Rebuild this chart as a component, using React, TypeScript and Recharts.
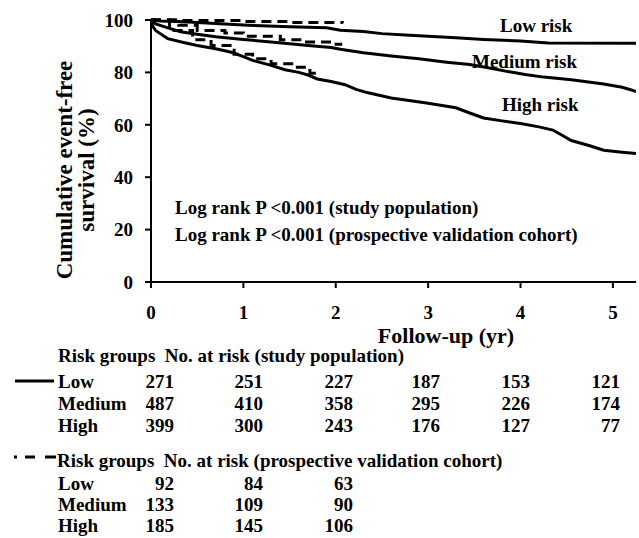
import React from 'react';
import { LineChart, Line, XAxis, YAxis } from 'recharts';

// Kaplan-Meier curves, [years, % event-free]
const studyLow: [number, number][] = [
  [0, 100], [0.1, 99.6], [0.35, 99.3], [0.7, 98.7], [1.05, 98], [1.5, 97.4], [1.9, 97],
  [2.05, 96.1], [2.3, 95.6], [2.5, 94.8], [2.8, 94.2], [3.0, 93.8], [3.3, 93.2],
  [3.6, 92.6], [4.0, 92], [4.3, 91.2], [5.25, 91.1],
];
const studyMedium: [number, number][] = [
  [0, 100], [0.05, 98.5], [0.15, 97.4], [0.32, 95.5], [0.5, 94.6], [0.7, 93.6], [1.0, 92.6],
  [1.3, 91.6], [1.7, 90.3], [1.95, 89.5], [2.05, 88.8], [2.3, 87.5], [2.6, 86.3],
  [2.9, 85.2], [3.2, 83.9], [3.45, 83], [3.65, 81.8], [3.85, 80.4], [4.05, 79.2],
  [4.25, 78.2], [4.55, 77.2], [4.9, 75.6], [5.1, 74.3], [5.2, 73.3], [5.25, 72.7],
];
const studyHigh: [number, number][] = [
  [0, 100], [0.02, 97.5], [0.05, 96], [0.1, 94.8], [0.18, 92.9], [0.33, 91.6], [0.5, 90.3],
  [0.7, 89], [0.87, 87.7], [1.0, 86], [1.1, 84.6], [1.3, 82.7], [1.45, 81], [1.6, 80],
  [1.7, 79], [1.8, 77.5], [1.95, 76.5], [2.1, 75.3], [2.22, 73.5], [2.35, 72.2],
  [2.6, 70.2], [2.85, 69], [3.0, 68.2], [3.3, 66.5], [3.45, 64.5], [3.6, 62.6],
  [3.8, 61.5], [4.0, 60.5], [4.2, 59.2], [4.35, 58], [4.45, 56], [4.55, 54],
  [4.75, 52], [4.9, 50.3], [5.1, 49.5], [5.25, 49],
];
const cohortLow: [number, number][] = [
  [0, 100], [0.3, 99.8], [1.0, 99.4], [1.5, 99], [2.07, 98.7],
];
const cohortMedium: [number, number][] = [
  [0, 100], [0.3, 98], [0.5, 96], [0.8, 95], [1.0, 93.8], [1.4, 92.5], [1.65, 91.6],
  [1.95, 90.7], [2.07, 90.7],
];
const cohortHigh: [number, number][] = [
  [0, 100], [0.2, 96], [0.45, 92.5], [0.65, 90.3], [0.9, 86.9], [1.1, 85.2], [1.3, 83.3],
  [1.55, 82], [1.72, 79.7], [1.8, 79.7],
];

const xTicks = [0, 1, 2, 3, 4, 5];
const yTicks = [0, 20, 40, 60, 80, 100];

// numbers at risk
const riskGroups = ['Low', 'Medium', 'High'];
const studyAtRiskLow = [271, 251, 227, 187, 153, 121];
const studyAtRiskMedium = [487, 410, 358, 295, 226, 174];
const studyAtRiskHigh = [399, 300, 243, 176, 127, 77];
const cohortAtRiskLow = [92, 84, 63];
const cohortAtRiskMedium = [133, 109, 90];
const cohortAtRiskHigh = [185, 145, 106];

const toPoints = (rows: [number, number][]) => rows.map(([t, v]) => ({ t, v }));

const FONT = '"Liberation Serif", "Times New Roman", serif';
const colRight = [174, 263, 353, 440, 530, 620];

const App: React.FC = () => {
  const studyRows = [studyAtRiskLow, studyAtRiskMedium, studyAtRiskHigh];
  const cohortRows = [cohortAtRiskLow, cohortAtRiskMedium, cohortAtRiskHigh];
  const tickStyle = { fontSize: 19, fontWeight: 700, fontFamily: FONT, fill: '#000' };

  return (
    <div style={{ position: 'relative', width: 639, height: 538, background: '#fff' }}>
      <style>{'body{margin:0}'}</style>
      <div style={{ position: 'absolute', left: 0, top: 0 }}>
        <LineChart width={639} height={330} margin={{ top: 20, right: 3, left: 91, bottom: 0 }}>
          <XAxis
            type="number"
            dataKey="t"
            domain={[0, 5.25]}
            ticks={xTicks}
            allowDataOverflow
            height={48}
            tickSize={6}
            tickMargin={18}
            tick={tickStyle}
            axisLine={{ stroke: '#000', strokeWidth: 2 }}
            tickLine={{ stroke: '#000', strokeWidth: 2 }}
          />
          <YAxis
            type="number"
            domain={[0, 100]}
            ticks={yTicks}
            width={60}
            tickSize={6}
            tickMargin={12}
            tick={tickStyle}
            axisLine={{ stroke: '#000', strokeWidth: 2 }}
            tickLine={{ stroke: '#000', strokeWidth: 2 }}
          />
          <Line data={toPoints(studyLow)} dataKey="v" type="linear" stroke="#000" strokeWidth={3} dot={false} isAnimationActive={false} />
          <Line data={toPoints(studyMedium)} dataKey="v" type="linear" stroke="#000" strokeWidth={3} dot={false} isAnimationActive={false} />
          <Line data={toPoints(studyHigh)} dataKey="v" type="linear" stroke="#000" strokeWidth={3} dot={false} isAnimationActive={false} />
          <Line data={toPoints(cohortLow)} dataKey="v" type="stepAfter" stroke="#000" strokeWidth={3} strokeDasharray="10 6" dot={false} isAnimationActive={false} />
          <Line data={toPoints(cohortMedium)} dataKey="v" type="stepAfter" stroke="#000" strokeWidth={3} strokeDasharray="10 6" dot={false} isAnimationActive={false} />
          <Line data={toPoints(cohortHigh)} dataKey="v" type="stepAfter" stroke="#000" strokeWidth={3} strokeDasharray="10 6" dot={false} isAnimationActive={false} />
        </LineChart>
      </div>

      {/* titles, curve labels and the at-risk table */}
      <svg
        width={639}
        height={538}
        style={{ position: 'absolute', left: 0, top: 0, pointerEvents: 'none' }}
        fontFamily={FONT}
        fontWeight={700}
        fill="#000"
      >
        <text transform="translate(72,170) rotate(-90)" textAnchor="middle" fontSize={23}>
          Cumulative event-free
        </text>
        <text transform="translate(94,170) rotate(-90)" textAnchor="middle" fontSize={23}>
          survival (%)
        </text>
        <text x={446} y={343} textAnchor="middle" fontSize={22}>Follow-up (yr)</text>

        <text x={500} y={32} fontSize={19}>Low risk</text>
        <text x={472} y={68} fontSize={19}>Medium risk</text>
        <text x={502} y={111} fontSize={19}>High risk</text>

        <text x={175} y={214} fontSize={19}>Log rank P &lt;0.001 (study population)</text>
        <text x={175} y={241} fontSize={19}>Log rank P &lt;0.001 (prospective validation cohort)</text>

        <line x1={15} x2={54} y1={381} y2={381} stroke="#000" strokeWidth={3} />
        <text x={58} y={362} fontSize={19}>{'Risk groups\u00a0 No. at risk (study population)'}</text>
        {riskGroups.map((g, r) => (
          <g key={'s' + g}>
            <text x={58} y={388 + r * 22} fontSize={19}>{g}</text>
            {studyRows[r].map((n, c) => (
              <text key={c} x={colRight[c]} y={388 + r * 22} fontSize={19} textAnchor="end">{n}</text>
            ))}
          </g>
        ))}

        <line x1={14} x2={17} y1={457} y2={457} stroke="#000" strokeWidth={3} />
        <line x1={25} x2={35} y1={457} y2={457} stroke="#000" strokeWidth={3} />
        <line x1={45} x2={56} y1={457} y2={457} stroke="#000" strokeWidth={3} />
        <text x={57} y={467} fontSize={19}>{'Risk groups\u00a0 No. at risk (prospective validation cohort)'}</text>
        {riskGroups.map((g, r) => (
          <g key={'c' + g}>
            <text x={58} y={490 + r * 21} fontSize={19}>{g}</text>
            {cohortRows[r].map((n, c) => (
              <text key={c} x={colRight[c]} y={490 + r * 21} fontSize={19} textAnchor="end">{n}</text>
            ))}
          </g>
        ))}
      </svg>
    </div>
  );
};

export default App;
